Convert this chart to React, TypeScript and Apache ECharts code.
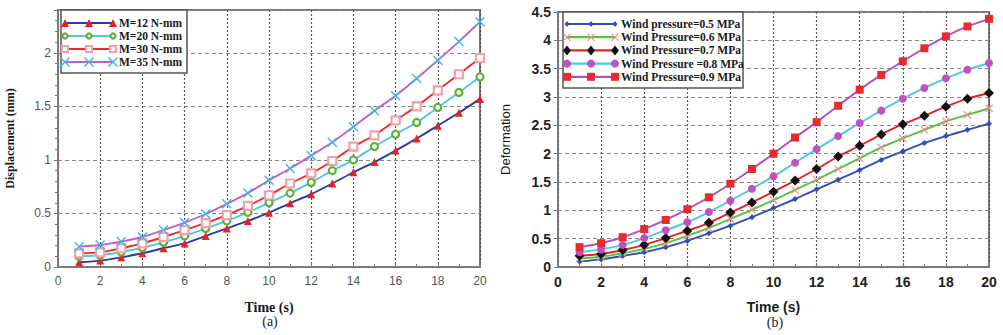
import React, { useEffect, useRef } from "react";
import * as echarts from "echarts";

const timeValues = [1, 2, 3, 4, 5, 6, 7, 8, 9, 10, 11, 12, 13, 14, 15, 16, 17, 18, 19, 20];

const leftNames = ["M=12 N-mm", "M=20 N-mm", "M=30 N-mm", "M=35 N-mm"];
const m12 = [0.044, 0.06, 0.09, 0.128, 0.175, 0.22, 0.29, 0.36, 0.43, 0.507, 0.595, 0.68, 0.78, 0.885, 0.98, 1.087, 1.2, 1.32, 1.44, 1.57];
const m20 = [0.1, 0.11, 0.14, 0.18, 0.23, 0.29, 0.36, 0.43, 0.51, 0.6, 0.69, 0.79, 0.9, 1.0, 1.125, 1.24, 1.35, 1.49, 1.63, 1.775];
const m30 = [0.128, 0.137, 0.175, 0.22, 0.28, 0.345, 0.41, 0.485, 0.57, 0.67, 0.78, 0.875, 0.99, 1.125, 1.23, 1.37, 1.5, 1.65, 1.8, 1.95];
const m35 = [0.19, 0.205, 0.237, 0.28, 0.345, 0.415, 0.495, 0.59, 0.69, 0.81, 0.92, 1.04, 1.165, 1.31, 1.46, 1.6, 1.76, 1.93, 2.105, 2.29];

const rightNames = [
  "Wind pressure=0.5 MPa",
  "Wind Pressure=0.6 MPa",
  "Wind Pressure=0.7 MPa",
  "Wind Pressure =0.8 MPa",
  "Wind Pressure=0.9 MPa",
];
const p05 = [0.095, 0.135, 0.195, 0.26, 0.35, 0.46, 0.595, 0.73, 0.88, 1.04, 1.2, 1.37, 1.54, 1.71, 1.89, 2.04, 2.19, 2.31, 2.42, 2.53];
const p06 = [0.15, 0.18, 0.24, 0.32, 0.42, 0.55, 0.69, 0.85, 1.01, 1.18, 1.36, 1.54, 1.73, 1.92, 2.11, 2.27, 2.42, 2.57, 2.685, 2.8];
const p07 = [0.2, 0.23, 0.3, 0.39, 0.51, 0.64, 0.78, 0.96, 1.14, 1.33, 1.525, 1.73, 1.95, 2.14, 2.34, 2.52, 2.67, 2.83, 2.97, 3.07];
const p08 = [0.26, 0.31, 0.39, 0.51, 0.65, 0.79, 0.97, 1.17, 1.38, 1.6, 1.84, 2.08, 2.31, 2.54, 2.76, 2.97, 3.16, 3.33, 3.48, 3.6];
const p09 = [0.35, 0.42, 0.525, 0.67, 0.83, 1.02, 1.23, 1.47, 1.73, 2.0, 2.285, 2.555, 2.845, 3.13, 3.39, 3.63, 3.86, 4.07, 4.245, 4.38];

const xTickLabels = ["0", "2", "4", "6", "8", "10", "12", "14", "16", "18", "20"];

const X_PATH = "path://M1,0L5,4L9,0L10,1L6,5L10,9L9,10L5,6L1,10L0,9L4,5L0,1Z";

type Sty = { line: string; marker: string; symbol: string; size: number; fill: string; border: string; bw: number };

const leftStyles: Sty[] = [
  { line: "#2a3aa8", marker: "#e42222", symbol: "triangle", size: 8, fill: "#e42222", border: "#e42222", bw: 0 },
  { line: "#50c8e4", marker: "#5cb032", symbol: "circle", size: 7, fill: "#ffffff", border: "#5cb032", bw: 2.2 },
  { line: "#f02828", marker: "#f4a0aa", symbol: "rect", size: 8, fill: "#ffffff", border: "#f4a0aa", bw: 2.2 },
  { line: "#c060c4", marker: "#40b8e4", symbol: X_PATH, size: 10, fill: "#40b8e4", border: "#40b8e4", bw: 0 },
];
const rightStyles: Sty[] = [
  { line: "#2f4fb4", marker: "#2f4fb4", symbol: "diamond", size: 6, fill: "#2f4fb4", border: "#2f4fb4", bw: 0 },
  { line: "#5cc040", marker: "#f08a8a", symbol: X_PATH, size: 8, fill: "#f08a8a", border: "#f08a8a", bw: 0 },
  { line: "#e82020", marker: "#111111", symbol: "diamond", size: 10, fill: "#111111", border: "#111111", bw: 0 },
  { line: "#50c8e4", marker: "#c050c4", symbol: "circle", size: 8, fill: "#c050c4", border: "#c050c4", bw: 0 },
  { line: "#b050c4", marker: "#e82a2a", symbol: "rect", size: 8, fill: "#e82a2a", border: "#e82a2a", bw: 0 },
];

function markerGraphic(s: Sty, cx: number, cy: number): any {
  const r = s.size / 2;
  const style = { fill: s.fill, stroke: s.border, lineWidth: s.bw };
  if (s.symbol === "triangle") {
    return { type: "polygon", shape: { points: [[cx, cy - r], [cx + r, cy + r], [cx - r, cy + r]] }, style };
  }
  if (s.symbol === "circle") {
    return { type: "circle", shape: { cx, cy, r: s.bw ? r - 1 : r }, style };
  }
  if (s.symbol === "rect") {
    const h = s.bw ? r - 1 : r;
    return { type: "rect", shape: { x: cx - h, y: cy - h, width: 2 * h, height: 2 * h }, style };
  }
  if (s.symbol === "diamond") {
    return { type: "polygon", shape: { points: [[cx, cy - r], [cx + r * 0.8, cy], [cx, cy + r], [cx - r * 0.8, cy]] }, style };
  }
  const k = s.size / 10;
  const pts = [[1, 0], [5, 4], [9, 0], [10, 1], [6, 5], [10, 9], [9, 10], [5, 6], [1, 10], [0, 9], [4, 5], [0, 1]].map(
    ([a, b]) => [cx - r + a * k, cy - r + b * k]
  );
  return { type: "polygon", shape: { points: pts }, style };
}

function legendGraphics(names: string[], styles: Sty[], box: number[], firstY: number, step: number, lx: number): any[] {
  const out: any[] = [];
  out.push({
    type: "rect",
    shape: { x: box[0], y: box[1], width: box[2], height: box[3] },
    style: { fill: "#ffffff", stroke: "#555555", lineWidth: 1.5 },
    z: 100,
  });
  names.forEach((n, i) => {
    const y = firstY + i * step;
    const s = styles[i];
    out.push({ type: "line", shape: { x1: lx, y1: y, x2: lx + 48, y2: y }, style: { stroke: s.line, lineWidth: 2.2 }, z: 101 });
    [lx, lx + 24, lx + 48].forEach((mx) => out.push({ ...markerGraphic(s, mx, y), z: 102 }));
    out.push({
      type: "text",
      x: lx + 54,
      y,
      style: { text: n, fill: "#1a1a1a", font: "bold 11.5px 'Liberation Serif', 'DejaVu Serif', serif", verticalAlign: "middle", align: "left" },
      z: 102,
    });
  });
  return out;
}

function makeSeries(names: string[], datas: number[][], styles: Sty[], axisIndex: number) {
  return names.map((n, i) => ({
    name: n,
    type: "line",
    xAxisIndex: axisIndex,
    yAxisIndex: axisIndex,
    data: timeValues.map((t, j) => [t, datas[i][j]]),
    symbol: styles[i].symbol,
    symbolSize: styles[i].size,
    showAllSymbol: true,
    smooth: 0.2,
    lineStyle: { color: styles[i].line, width: 1.9 },
    itemStyle: { color: styles[i].fill, borderColor: styles[i].border, borderWidth: styles[i].bw },
    z: 10 + i,
  }));
}

const App: React.FC = () => {
  const ref = useRef<HTMLDivElement>(null);
  useEffect(() => {
    if (!ref.current) return;
    const chart = echarts.init(ref.current, undefined, { renderer: "svg" });
    const frame = "#7a7a7a";
    const leftLabel = { color: "#555", fontSize: 12, fontFamily: "'Liberation Sans', Arial, sans-serif" };
    const rightLabel = { color: "#222", fontSize: 14, fontWeight: "bold", fontFamily: "'Liberation Sans', Arial, sans-serif" };
    const hSplit = { show: true, lineStyle: { color: "#888", type: [4, 3], width: 1.2 } };
    const vSplit = { show: true, lineStyle: { color: "#555", type: [2, 2], width: 1.2 } };
    const xAxisBase = (labelStyle: any, nameStyle: any, gridIndex: number) => ({
      type: "value",
      gridIndex,
      min: 0,
      max: 20,
      interval: 2,
      name: "Time (s)",
      nameLocation: "middle",
      nameGap: 33,
      nameTextStyle: nameStyle,
      axisLine: { show: true, lineStyle: { color: frame, width: 2 } },
      axisTick: { show: true, inside: true, length: 4, lineStyle: { color: frame } },
      minorTick: { show: true, splitNumber: 2, length: 3, lineStyle: { color: frame } },
      axisLabel: { ...labelStyle, margin: 8, formatter: (v: number) => xTickLabels[Math.round(v / 2)] ?? "" },
      splitLine: vSplit,
    });
    const option: any = {
      animation: false,
      backgroundColor: "#ffffff",
      grid: [
        { left: 58, top: 10, width: 422, height: 257, show: true, borderColor: frame, borderWidth: 2, backgroundColor: "transparent" },
        { left: 558, top: 12, width: 431, height: 255, show: true, borderColor: frame, borderWidth: 2, backgroundColor: "transparent" },
      ],
      xAxis: [
        xAxisBase(leftLabel, { color: "#1a1a1a", fontSize: 14, fontWeight: "bold", fontFamily: "'Liberation Serif', serif" }, 0),
        xAxisBase(rightLabel, { color: "#1a1a1a", fontSize: 14, fontWeight: "bold", fontFamily: "'Liberation Sans', Arial, sans-serif" }, 1),
      ],
      yAxis: [
        {
          type: "value",
          gridIndex: 0,
          min: 0,
          max: 2.4,
          interval: 0.5,
          name: "Displacement (mm)",
          nameLocation: "middle",
          nameGap: 42,
          nameTextStyle: { color: "#1a1a1a", fontSize: 12, fontWeight: "bold", fontFamily: "'Liberation Serif', serif" },
          axisLine: { show: true, lineStyle: { color: frame, width: 2 } },
          axisTick: { show: true, length: 4, lineStyle: { color: frame } },
          minorTick: { show: true, splitNumber: 5, length: 3, lineStyle: { color: frame } },
          axisLabel: { ...leftLabel, margin: 7, showMaxLabel: false, formatter: (v: number) => (Math.abs(v * 2 - Math.round(v * 2)) < 1e-6 ? String(v) : "") },
          splitLine: hSplit,
        },
        {
          type: "value",
          gridIndex: 1,
          min: 0,
          max: 4.5,
          interval: 0.5,
          name: "Deformation",
          nameLocation: "middle",
          nameGap: 46,
          nameTextStyle: { color: "#1a1a1a", fontSize: 13, fontFamily: "'Liberation Sans', Arial, sans-serif" },
          axisLine: { show: true, lineStyle: { color: frame, width: 2 } },
          axisTick: { show: true, length: 4, lineStyle: { color: frame } },
          axisLabel: { ...rightLabel, margin: 7 },
          splitLine: hSplit,
        },
      ],
      series: [
        ...makeSeries(leftNames, [m12, m20, m30, m35], leftStyles, 0),
        ...makeSeries(rightNames, [p05, p06, p07, p08, p09], rightStyles, 1),
      ],
      graphic: [
        ...legendGraphics(leftNames, leftStyles, [61, 10, 126, 63], 23, 13, 65),
        ...legendGraphics(rightNames, rightStyles, [563, 12, 180, 76], 24, 13.2, 567),
        { type: "text", x: 270, y: 321, style: { text: "(a)", fill: "#222", font: "14px 'Liberation Serif', serif", align: "center", verticalAlign: "middle" } },
        { type: "text", x: 775, y: 322, style: { text: "(b)", fill: "#222", font: "14px 'Liberation Serif', serif", align: "center", verticalAlign: "middle" } },
      ],
    };
    chart.setOption(option);
    return () => chart.dispose();
  }, []);
  return (
    <div style={{ position: "fixed", left: 0, top: 0, width: 1003, height: 335, background: "#fff" }}>
      <div ref={ref} style={{ width: 1003, height: 335 }} />
    </div>
  );
};

export default App;
